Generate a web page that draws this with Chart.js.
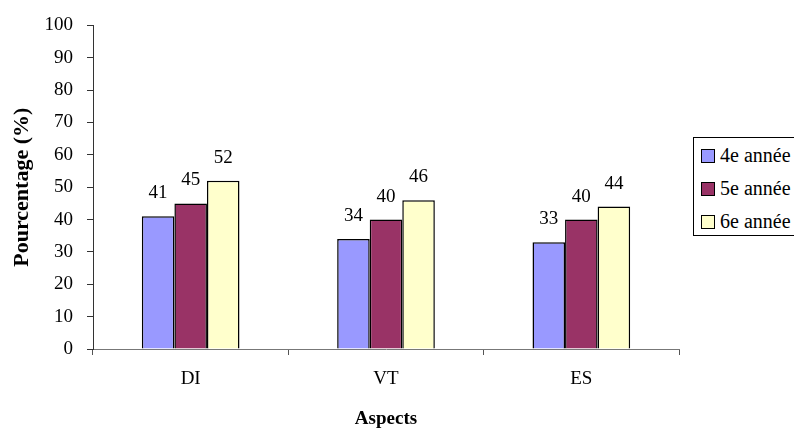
<!DOCTYPE html>
<html>
<head>
<meta charset="UTF-8">
<script src="https://cdn.jsdelivr.net/npm/chart.js@4"></script>
<style>
    html, body { margin: 0; padding: 0; background: #fff; overflow: hidden; }
    #wrap { position: relative; width: 794px; height: 430px; }
    #legend {
        position: absolute; left: 693px; top: 137px; width: 130px; height: 97px;
        border: 1px solid #000; background: #fff;
        font-family: 'Liberation Serif', serif;
        font-size: 20px; color: #000;
    }
    .item { position: absolute; left: 7px; height: 16px; line-height: 16px; white-space: nowrap; }
    .sw { display: inline-block; width: 12px; height: 12px; border: 1px solid #000; vertical-align: -1px; margin-right: 5px; }
</style>
</head>
<body>
<div id="wrap">
    <canvas id="chart" width="794" height="430"></canvas>
    <div id="legend"></div>
</div>
<script>
const categories = ['DI', 'VT', 'ES'];
const seriesNames = ['4e année', '5e année', '6e année'];
const values4e = [41, 34, 33];
const values5e = [45, 40, 40];
const values6e = [52, 46, 44];
const colors = ['#9999FF', '#993366', '#FFFFCC'];
const yTicks = [0, 10, 20, 30, 40, 50, 60, 70, 80, 90, 100];

const serif = "'Liberation Serif', serif";
const seriesValues = [values4e, values5e, values6e];

// value labels above each bar
const valueLabels = {
    id: 'valueLabels',
    afterDatasetsDraw(chart) {
        const ctx = chart.ctx;
        ctx.save();
        ctx.font = "19px 'Liberation Serif', serif";
        ctx.fillStyle = '#000';
        ctx.textAlign = 'center';
        ctx.textBaseline = 'middle';
        chart.data.datasets.forEach((ds, i) => {
            chart.getDatasetMeta(i).data.forEach((bar, j) => {
                ctx.fillText(String(ds.data[j]), bar.x, bar.y - 23);
            });
        });
        ctx.restore();
    }
};

new Chart(document.getElementById('chart').getContext('2d'), {
    type: 'bar',
    data: {
        labels: categories,
        datasets: seriesNames.map((name, i) => ({
            label: name,
            data: seriesValues[i],
            backgroundColor: colors[i],
            borderColor: '#000',
            borderWidth: 1.5,
            categoryPercentage: 0.5,
            barPercentage: 1.0
        }))
    },
    options: {
        responsive: false,
        animation: false,
        layout: { padding: { top: 23, right: 115, left: 0, bottom: 0 } },
        plugins: {
            legend: { display: false },
            tooltip: { enabled: false }
        },
        scales: {
            x: {
                afterFit: s => { s.height = 81; },
                grid: { display: true, offset: true, drawOnChartArea: false, tickLength: 6, color: '#555' },
                border: { color: '#777', width: 1 },
                ticks: { color: '#000', padding: 13, font: { family: serif, size: 19 } },
                title: {
                    display: true, text: 'Aspects', color: '#000',
                    font: { family: serif, size: 19, weight: 'bold' }, padding: { top: 0, bottom: 0 }
                }
            },
            y: {
                min: 0, max: 100,
                afterFit: s => { s.width = 93; },
                afterBuildTicks: s => { s.ticks = yTicks.map(v => ({ value: v })); },
                grid: { display: true, drawOnChartArea: false, tickLength: 6, color: '#333' },
                border: { color: '#333', width: 1 },
                ticks: { color: '#000', padding: 14, font: { family: serif, size: 19 } },
                title: {
                    display: true, text: 'Pourcentage (%)', color: '#000',
                    font: { family: serif, size: 22, weight: 'bold' }, padding: { top: 9, bottom: 0 }
                }
            }
        }
    },
    plugins: [valueLabels]
});

// legend (clipped at the right edge like the original)
const legend = document.getElementById('legend');
seriesNames.forEach((name, i) => {
    const item = document.createElement('div');
    item.className = 'item';
    item.style.top = (9 + i * 33) + 'px';
    const sw = document.createElement('span');
    sw.className = 'sw';
    sw.style.background = colors[i];
    item.appendChild(sw);
    item.appendChild(document.createTextNode(name));
    legend.appendChild(item);
});
</script>
</body>
</html>
